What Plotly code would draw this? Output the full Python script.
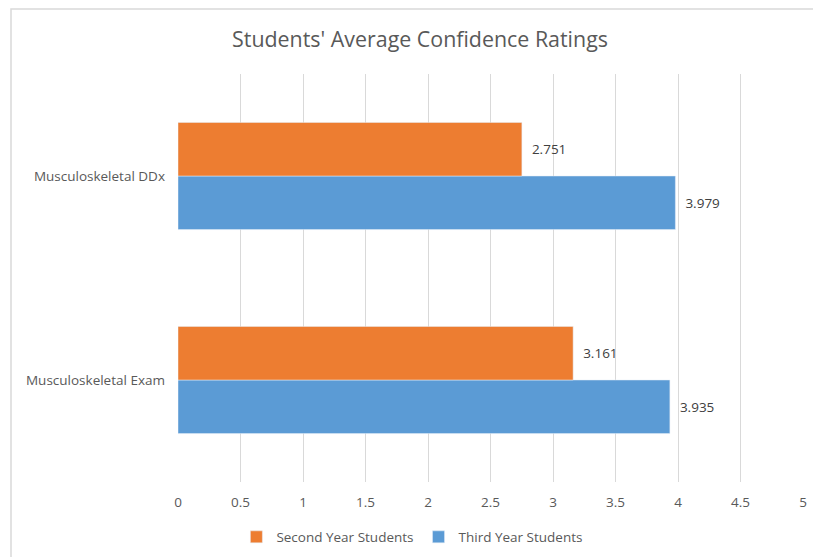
import plotly.graph_objects as go

categories = ["Musculoskeletal Exam", "Musculoskeletal DDx"]
second_year = [3.161, 2.751]
third_year = [3.935, 3.979]
tick_vals = [0, 0.5, 1, 1.5, 2, 2.5, 3, 3.5, 4, 4.5, 5]
tick_text = ["0", "0.5", "1", "1.5", "2", "2.5", "3", "3.5", "4", "4.5", "5"]

FONT = "Open Sans, Noto Sans, sans-serif"
PAD = "\u00a0\u00a0"

W, H = 813, 557
L, R, T, B = 178, 10, 74, 75
PW, PH = W - L - R, H - T - B

fig = go.Figure()
fig.add_trace(go.Bar(
    y=categories, x=third_year, orientation="h", name="Third Year Students",
    marker=dict(color="#5B9BD5"), text=[PAD + f"{v:.3f}" for v in third_year],
    textposition="outside", textfont=dict(color="#404040", size=13.5, family=FONT),
    legendrank=2, cliponaxis=False,
))
fig.add_trace(go.Bar(
    y=categories, x=second_year, orientation="h", name="Second Year Students",
    marker=dict(color="#ED7D31"), text=[PAD + f"{v:.3f}" for v in second_year],
    textposition="outside", textfont=dict(color="#404040", size=13.5, family=FONT),
    legendrank=1, cliponaxis=False,
))

fig.update_layout(
    width=W, height=H,
    margin=dict(l=L, r=R, t=T, b=B, autoexpand=False),
    paper_bgcolor="white", plot_bgcolor="white",
    barmode="group", bargap=0.475, bargroupgap=0,
    title=dict(text="Students' Average Confidence Ratings", x=420 / W, xanchor="center",
               y=1 - 40 / H, yanchor="middle",
               font=dict(size=21.4, color="#595959", family=FONT)),
    font=dict(family=FONT, color="#595959", size=13.5),
    xaxis=dict(range=[0, 5], tickvals=tick_vals, ticktext=tick_text,
               showgrid=True, gridcolor="#D9D9D9", gridwidth=1.3,
               zeroline=False, showline=False, ticks="", automargin=False,
               ticklabelstandoff=10,
               tickfont=dict(size=13.5, color="#595959")),
    yaxis=dict(showgrid=False, zeroline=False, showline=False, ticks="",
               automargin=False, ticklabelstandoff=12,
               tickfont=dict(size=13.5, color="#595959")),
    legend=dict(orientation="h", x=0.375, xanchor="center", y=-0.135, yanchor="middle",
                font=dict(size=13.5, color="#595959"), itemwidth=30,
                traceorder="normal"),
    shapes=[dict(type="rect", xref="paper", yref="paper",
                 x0=(11 - L) / PW, x1=(W + 40 - L) / PW,
                 y0=(H - B - (H + 40)) / PH, y1=(H - B - 9) / PH,
                 line=dict(color="#D9D9D9", width=1.5), fillcolor="rgba(0,0,0,0)",
                 layer="below")],
)

fig.write_html("out.html", config={"displayModeBar": False},
               post_script="document.body.style.margin='0';document.body.style.overflow='hidden';")
